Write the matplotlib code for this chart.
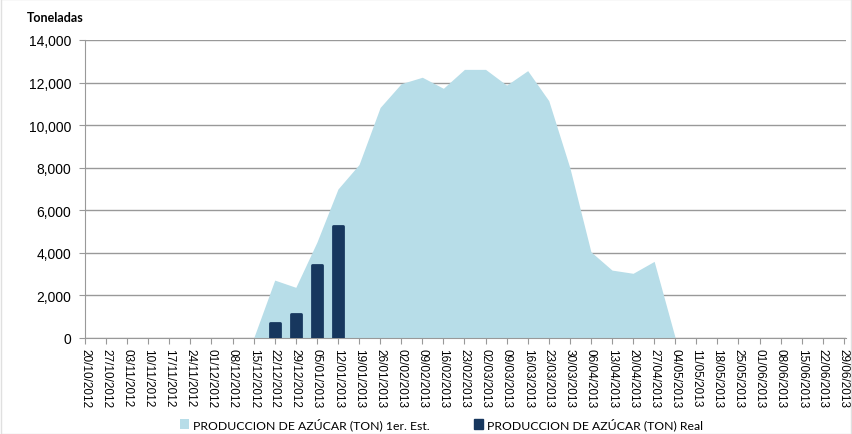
import matplotlib.pyplot as plt
import matplotlib.dates as mdates
from matplotlib.patches import Patch, Rectangle
import pandas as pd

# weekly dates on the x axis
dates = pd.date_range('2012-10-20', '2013-06-29', freq='7D')

# 1st estimate (area), one value per week
estimado = [0, 0, 0, 0, 0, 0, 0, 0, 0,
            2720, 2380, 4500, 7000, 8150, 10830, 11950, 12250, 11730, 12620,
            12620, 11880, 12560, 11150, 8000, 4050, 3190, 3040, 3600, 0,
            0, 0, 0, 0, 0, 0, 0, 0]

# real production (bars)
real_fechas = pd.to_datetime(['2012-12-22', '2012-12-29', '2013-01-05', '2013-01-12'])
real = [700, 1150, 3420, 5270]

c_area = '#B7DDE8'
c_bar = '#17375E'

fig = plt.figure(figsize=(8.52, 4.35), dpi=100)
ax = fig.add_axes([85/852, 96/435, 761/852, 298/435])

ax.fill_between(dates, estimado, 0, color=c_area, linewidth=0, zorder=2)
ax.bar(real_fechas, real, width=3.3, color=c_bar, edgecolor=c_bar,
       linewidth=2, joinstyle='round', zorder=3)

ax.set_ylim(0, 14000)
ax.set_yticks(range(0, 14001, 2000))
ax.set_yticklabels([f'{v:,}' for v in range(0, 14001, 2000)],
                   fontfamily='Liberation Sans', fontsize=10)
ax.set_xlim(dates[0], dates[-1] + pd.Timedelta(days=0.7))
ax.set_xticks(dates)
ax.xaxis.set_major_formatter(mdates.DateFormatter('%d/%m/%Y'))
for lab in ax.get_xticklabels():
    lab.set_rotation(270)
    lab.set_fontfamily('Liberation Sans')
    lab.set_fontsize(8.5)
    lab.set_va('top')
    lab.set_ha('center')

ax.grid(axis='y', color='#999999', linewidth=1, zorder=1)
ax.set_axisbelow(True)
for s in ['top', 'right']:
    ax.spines[s].set_visible(False)
for s in ['left', 'bottom']:
    ax.spines[s].set_color('#999999')
ax.tick_params(axis='both', colors='#999999', length=4, labelcolor='black')
ax.tick_params(axis='y', pad=6)

fig.text(27/852, 1 - 18/435, 'Toneladas', fontfamily='Lato', fontweight='bold',
         fontsize=9, va='center', ha='left')

handles = [Patch(facecolor=c_area, edgecolor='none'),
           Patch(facecolor=c_bar, edgecolor=c_bar, joinstyle='round')]
labels = ['PRODUCCION DE AZÚCAR (TON) 1er. Est.', 'PRODUCCION DE AZÚCAR (TON) Real']
fig.legend(handles, labels, loc='center', bbox_to_anchor=(0.518, 1 - 425/435),
           ncol=2, frameon=False, prop={'family': 'Lato', 'size': 8.8},
           handlelength=0.8, handleheight=0.8, handletextpad=0.3, columnspacing=3.6)

fig.add_artist(Rectangle((0.001, 0.001), 0.998, 0.998, transform=fig.transFigure,
                         fill=False, edgecolor='#e0e0e0', linewidth=1))

fig.savefig('out.png', dpi=100)
